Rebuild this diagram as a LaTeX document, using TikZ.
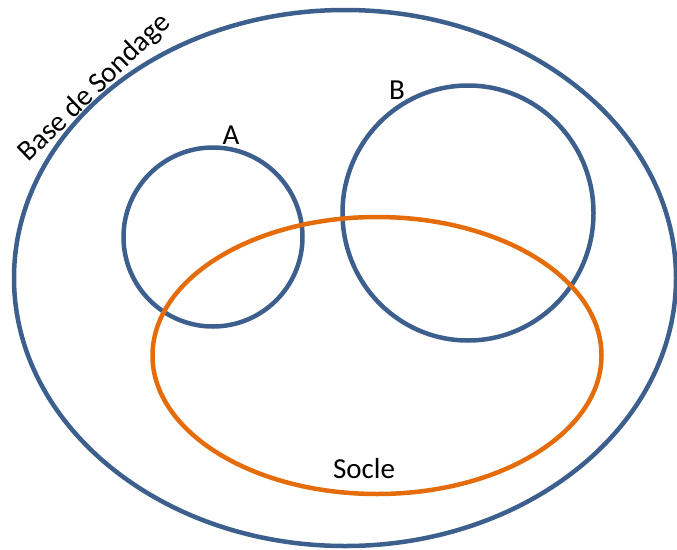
\documentclass[tikz,border=0pt]{standalone}
\usepackage{fontspec}
\setmainfont{Carlito}
\definecolor{setblue}{HTML}{3C5F8E}
\definecolor{setorange}{HTML}{E46C0A}
\begin{document}
\begin{tikzpicture}[x=1pt,y=-1pt,
  setline/.style={line width=4.5pt},
  lbl/.style={font=\fontsize{29}{34}\selectfont, inner sep=0pt}]
\useasboundingbox (0,0) rectangle (677,549);
% universe: sampling frame
\draw[setline, setblue] (345,278) ellipse [x radius=331, y radius=268];
% sets A and B
\draw[setline, setblue] (213,237) circle [radius=89.5];
\draw[setline, setblue] (468,213) ellipse [x radius=125.5, y radius=127.5];
% core set
\draw[setline, setorange] (377,355.5) ellipse [x radius=224.5, y radius=138.5];
% labels
\node[lbl, rotate=44] (base) at (95,88) {Base de Sondage};
\node[lbl] (a) at (231,135) {A};
\node[lbl] (b) at (397,90) {B};
\node[lbl] (socle) at (364,469) {Socle};
\end{tikzpicture}
\end{document}
